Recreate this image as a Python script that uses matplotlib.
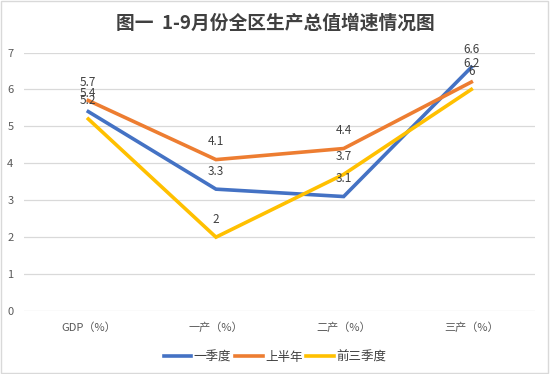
import matplotlib
matplotlib.use("Agg")
import matplotlib.pyplot as plt
from matplotlib.patches import Rectangle

plt.rcParams['font.family'] = ['Noto Sans CJK SC', 'DejaVu Sans']

categories = ["GDP（%）", "一产（%）", "二产（%）", "三产（%）"]
series_names = ["一季度", "上半年", "前三季度"]
q1 = [5.4, 3.3, 3.1, 6.6]
h1 = [5.7, 4.1, 4.4, 6.2]
q3 = [5.2, 2.0, 3.7, 6.0]
colors = ["#4472C4", "#ED7D31", "#FFC000"]
title = "图一  1-9月份全区生产总值增速情况图"

fig = plt.figure(figsize=(5.5, 3.74), dpi=100)
ax = fig.add_axes([0.0445, 0.1684, 0.9285, 0.6912])

x = list(range(len(categories)))
for vals, name, c in zip([q1, h1, q3], series_names, colors):
    ax.plot(x, vals, color=c, lw=2.6, label=name, solid_joinstyle='miter')
    for xi, v in zip(x, vals):
        lab = f"{v:g}"
        ax.annotate(lab, (xi, v), xytext=(0, 13), textcoords='offset points',
                    ha='center', va='center', fontsize=8.5, color='#404040')

ax.set_xlim(-0.5, len(categories) - 0.5)
ax.set_ylim(0, 7)
ax.set_yticks(range(0, 8))
ax.set_xticks(x)
ax.set_xticklabels(categories)
ax.tick_params(axis='both', length=0, labelsize=8, colors='#595959')
ax.tick_params(axis='y', pad=8)
ax.tick_params(axis='x', pad=8)
ax.grid(axis='y', color='#D9D9D9', lw=0.9)
ax.set_axisbelow(True)
for s in ax.spines.values():
    s.set_visible(False)

fig.text(0.5, 0.937, title, ha='center', va='center', fontsize=13.5,
         fontweight='bold', color='#404040')

leg = fig.legend(loc='center', bbox_to_anchor=(0.5, 0.045), ncol=3, frameon=False,
                 fontsize=9, handlelength=2.2, handletextpad=0.2, columnspacing=0.3)
for t in leg.get_texts():
    t.set_color('#404040')

fig.patches.append(Rectangle((0.002, 0.003), 0.995, 0.994, transform=fig.transFigure,
                             fill=False, edgecolor='#D9D9D9', lw=1))

fig.savefig("out.png", dpi=100, facecolor='white')
